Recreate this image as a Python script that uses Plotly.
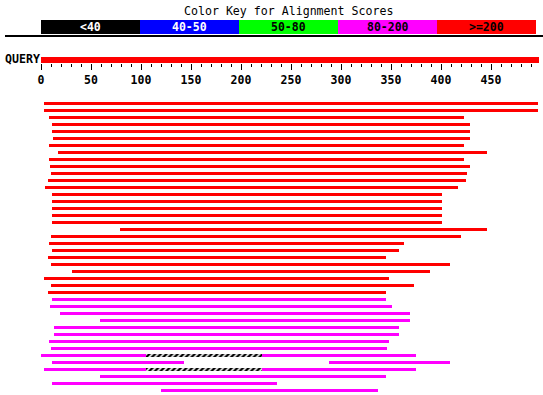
import plotly.graph_objects as go

# ---------------- data ----------------
QUERY_LABEL = "QUERY"
QUERY_LENGTH = 498
TITLE = "Color Key for Alignment Scores"
KEY_LABELS = ["<40", "40-50", "50-80", "80-200", ">=200"]
KEY_COLORS = ["#000000", "#0000ff", "#00ff00", "#ff00ff", "#ff0000"]
KEY_TEXT_COLORS = ["#ffffff", "#ffffff", "#000000", "#000000", "#000000"]
TICK_VALUES = [0, 50, 100, 150, 200, 250, 300, 350, 400, 450]
MINOR_TICK_VALUES = [v for v in range(10, 500, 10) if v % 50]

# hits with score >= 200 (red), one per row
RED_ROWS = list(range(28))
RED_STARTS = [3, 3, 8, 11, 11, 12, 8, 17, 8, 9, 10, 7, 4, 11,
              11, 11, 11, 11, 79, 10, 8, 11, 7, 10, 31, 3, 10, 7]
RED_ENDS = [497, 497, 423, 429, 429, 429, 423, 446, 423, 429, 426, 425, 417, 401,
            401, 401, 401, 401, 446, 420, 363, 358, 345, 409, 389, 348, 373, 345]

# hits with score 80-200 (magenta); some rows hold two segments
MAG_ROWS = [28, 29, 30, 31, 32, 33, 34, 35, 36, 36, 37, 37, 38, 38, 39, 40, 41]
MAG_STARTS = [11, 9, 19, 59, 13, 13, 8, 10, 0, 221, 11, 288, 3, 221, 59, 11, 120]
MAG_ENDS = [345, 351, 369, 369, 358, 358, 348, 346, 105, 375, 143, 409, 105, 375, 345, 236, 337]

# hatched gaps joining segments of one hit
GAP_ROWS = [36, 38]
GAP_STARTS = [105, 105]
GAP_ENDS = [221, 221]

# ---------------- layout constants ----------------
W, H = 543, 395
X_ZERO_PX = 41          # pixel where position 0 sits
ROW0_PX = 103.5         # centre of first hit row
ROW_STEP_PX = 7
HIT_H_PX = 3
QUERY_PX, QUERY_H_PX = 60, 6
AXIS_PX = 63
KEY_TOP_PX, KEY_BOT_PX = 20, 34
KEY_BOX = 99            # width of each key box in axis units
MONO = "DejaVu Sans Mono"


def row_of(px):
    return (px - ROW0_PX) / ROW_STEP_PX


def paper_y(px):
    return 1 - px / H


fig = go.Figure()

# query bar
fig.add_trace(go.Bar(orientation="h", y=[row_of(QUERY_PX)], base=[0], x=[QUERY_LENGTH],
                     width=QUERY_H_PX / ROW_STEP_PX, marker=dict(color="#ff0000", line=dict(width=0)),
                     hoverinfo="skip"))

# red hits
fig.add_trace(go.Bar(orientation="h", y=RED_ROWS, base=RED_STARTS,
                     x=[e - s for s, e in zip(RED_STARTS, RED_ENDS)],
                     width=HIT_H_PX / ROW_STEP_PX, marker=dict(color="#ff0000", line=dict(width=0))))

# magenta hits
fig.add_trace(go.Bar(orientation="h", y=MAG_ROWS, base=MAG_STARTS,
                     x=[e - s for s, e in zip(MAG_STARTS, MAG_ENDS)],
                     width=HIT_H_PX / ROW_STEP_PX, marker=dict(color="#ff00ff", line=dict(width=0))))

# hatched gaps
fig.add_trace(go.Bar(orientation="h", y=GAP_ROWS, base=GAP_STARTS,
                     x=[e - s for s, e in zip(GAP_STARTS, GAP_ENDS)],
                     width=HIT_H_PX / ROW_STEP_PX,
                     marker=dict(color="white", line=dict(width=0),
                                 pattern=dict(shape="/", fgcolor="black", bgcolor="white",
                                              size=4, solidity=0.6, fillmode="replace"))))

shapes = []
annotations = []

# colour key
for k, (lab, col, tcol) in enumerate(zip(KEY_LABELS, KEY_COLORS, KEY_TEXT_COLORS)):
    x0, x1 = k * KEY_BOX, (k + 1) * KEY_BOX
    shapes.append(dict(type="rect", xref="x", yref="paper", x0=x0, x1=x1,
                       y0=paper_y(KEY_BOT_PX), y1=paper_y(KEY_TOP_PX),
                       fillcolor=col, line=dict(width=0), layer="above"))
    annotations.append(dict(xref="x", yref="paper", x=(x0 + x1) / 2,
                            y=paper_y((KEY_TOP_PX + KEY_BOT_PX) / 2),
                            text=lab, showarrow=False, xanchor="center", yanchor="middle",
                            font=dict(family=MONO, size=11.5, color=tcol, weight="bold")))

annotations.append(dict(xref="x", yref="paper", x=2.5 * KEY_BOX, y=paper_y(11),
                        text=TITLE, showarrow=False, xanchor="center", yanchor="middle",
                        font=dict(family=MONO, size=11.6, color="black")))

annotations.append(dict(xref="paper", yref="paper", x=3 / W, y=paper_y(QUERY_PX - 1),
                        text=QUERY_LABEL, showarrow=False, xanchor="left", yanchor="middle",
                        font=dict(family=MONO, size=11.6, color="black", weight="bold")))

# separator line
shapes.append(dict(type="line", xref="paper", yref="paper", x0=5 / W, x1=1,
                   y0=paper_y(36), y1=paper_y(36), line=dict(color="black", width=2)))

fig.update_layout(
    width=W, height=H,
    margin=dict(l=0, r=0, t=0, b=0),
    paper_bgcolor="white", plot_bgcolor="white",
    showlegend=False, barmode="overlay", hovermode=False,
    shapes=shapes, annotations=annotations,
    xaxis=dict(range=[-X_ZERO_PX, W - X_ZERO_PX], anchor="free", position=paper_y(AXIS_PX),
               side="bottom", showgrid=False, zeroline=False, showline=False,
               tickmode="array", tickvals=TICK_VALUES, ticks="outside", ticklen=6,
               tickwidth=1, tickcolor="black",
               minor=dict(tickmode="array", tickvals=MINOR_TICK_VALUES, ticks="outside",
                          ticklen=3, tickwidth=1, tickcolor="black"),
               tickfont=dict(family=MONO, size=11.5, color="black", weight="bold"),
               fixedrange=True),
    yaxis=dict(range=[row_of(H), row_of(0)], visible=False, showgrid=False,
               zeroline=False, fixedrange=True),
)

fig.write_html("out.html", config={"displayModeBar": False, "staticPlot": True},
               post_script="document.body.style.margin='0';document.body.style.overflow='hidden';")
